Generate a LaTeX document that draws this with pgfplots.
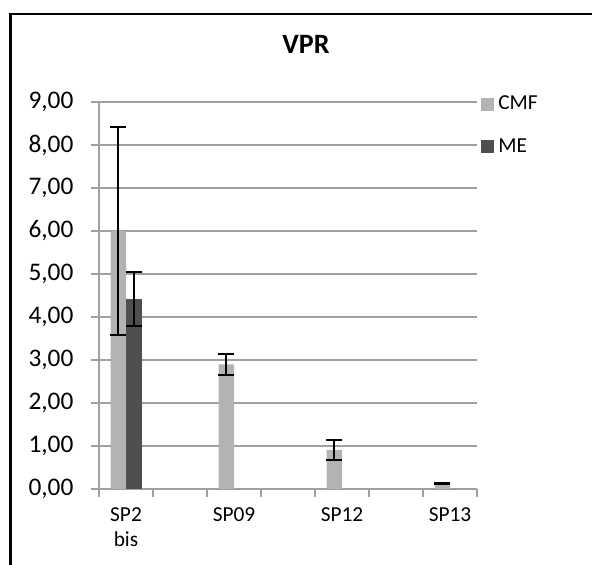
\documentclass[border=0pt]{standalone}
\usepackage{fontspec}
\setmainfont{Carlito}
\usepackage{pgfplots}
\pgfplotsset{compat=1.18}
\definecolor{cmf}{HTML}{B3B3B3}
\definecolor{me}{HTML}{4F4F4F}
\definecolor{gridc}{HTML}{A0A0A0}

\begin{document}
\begin{tikzpicture}
\useasboundingbox (0,0) rectangle (444pt,423pt);
% outer frame (cropped at right and bottom)
\draw[line width=2pt] (8pt,-2pt) -- (8pt,412.5pt) -- (446pt,412.5pt);
\begin{axis}[
    at={(74.25pt,56.25pt)}, anchor=south west,
    scale only axis, width=283.5pt, height=290.25pt,
    xmin=0, xmax=7, ymin=0, ymax=9,
    axis lines*=left,
    axis line style={gridc, line width=1pt, -},
    ymajorgrids,
    grid style={gridc, line width=1pt},
    ytick={0,...,9},
    xtick={0,...,7}, xticklabels={},
    tick align=outside, major tick length=6pt,
    tick style={gridc, line width=1pt},
    extra x ticks={0.5,2.5,4.5,6.5},
    extra x tick labels={SP2\\bis,SP09,SP12,SP13},
    extra x tick style={major tick length=0pt},
    xticklabel style={font=\fontsize{16}{18.75}\selectfont, align=center, anchor=north, inner ysep=0pt, yshift=-14pt},
    yticklabel style={font=\fontsize{19}{22}\selectfont, anchor=east, inner xsep=0pt, xshift=-13pt,
        /pgf/number format/fixed, /pgf/number format/fixed zerofill,
        /pgf/number format/precision=2, /pgf/number format/use comma},
    /pgf/number format/assume math mode=true,
    title=VPR,
    title style={at={(0.5476,1.1034)}, anchor=base, font=\fontsize{21}{24}\selectfont\bfseries},
    legend style={draw=none, fill=none, at={(1.0106,0.940)}, anchor=west,
        inner sep=0pt, row sep=20pt, column sep=0pt,
        font=\fontsize{16}{18}\selectfont,
        nodes={inner xsep=3pt, inner ysep=0pt}},
    legend cell align=left,
    legend image code/.code={\fill[#1] (0pt,-4.9pt) rectangle (9.75pt,4.9pt);},
]
\addplot[ybar, bar width=0.287, bar shift=0pt, fill=cmf, draw=none,
    error bars/.cd, y dir=both, y explicit,
    error bar style={black, line width=1.5pt},
    error mark options={black, rotate=90, mark size=6pt, line width=1.5pt}]
coordinates {
  (0.361,6.00) +- (0,2.42)
  (2.361,2.90) +- (0,0.24)
  (4.361,0.91) +- (0,0.23)
  (6.361,0.13) +- (0,0.01)
};
\addplot[ybar, bar width=0.287, bar shift=0pt, fill=me, draw=none,
    error bars/.cd, y dir=both, y explicit,
    error bar style={black, line width=1.5pt},
    error mark options={black, rotate=90, mark size=6pt, line width=1.5pt}]
coordinates {
  (0.648,4.42) +- (0,0.62)
};
\legend{CMF, ME}
\end{axis}
\end{tikzpicture}
\end{document}
